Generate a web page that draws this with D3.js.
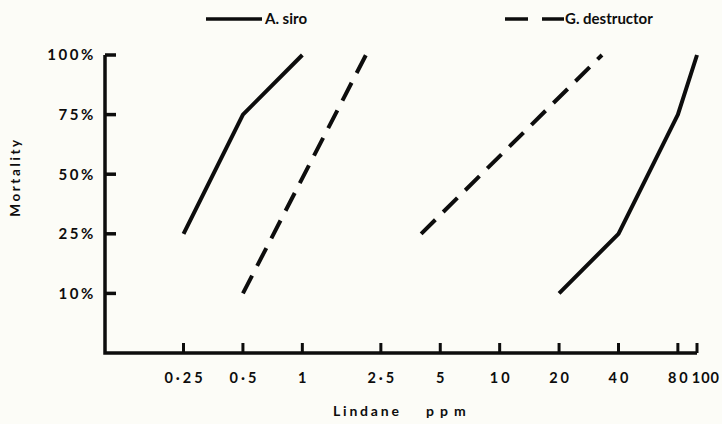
<!DOCTYPE html>
<html>
<head>
<meta charset="utf-8">
<script src="https://cdn.jsdelivr.net/npm/d3@7"></script>
<style>
  body { margin: 0; background: #fcfcf7; }
  svg { display: block; font-family: "Lato", "DejaVu Sans", sans-serif; font-weight: 700; }
</style>
</head>
<body>
<div id="chart"></div>
<script>
// mortality levels (probit-style, equally spaced)
const levels = ["10%", "25%", "50%", "75%", "100%"];
const xTicks = [0.25, 0.5, 1, 2.5, 5, 10, 20, 40, 80, 100];
const xTickLabels = ["0·25", "0·5", "1", "2·5", "5", "10", "20", "40", "80", "100"];

// A. siro (solid) – two sets of points
const siroA = [[0.25, "25%"], [0.5, "75%"], [1, "100%"]];
const siroB = [[20, "10%"], [40, "25%"], [80, "75%"], [100, "100%"]];
// G. destructor (dashed)
const destA = [[0.5, "10%"], [2.1, "100%"]];
const destB = [[4, "25%"], [33, "100%"]];

const width = 722, height = 424;

const svg = d3.select("#chart").append("svg")
  .attr("width", width).attr("height", height);

const x = d3.scaleLog().domain([0.1, 100]).range([105, 697]);
// index -1 is the baseline below 10%
const yIdx = d3.scaleLinear().domain([-1, 4]).range([353, 55]);
const y = (lv) => yIdx(levels.indexOf(lv));

const ink = "#0d0d0d";

// axes
svg.append("path")
  .attr("d", `M${x(0.1)},${yIdx(4)} V${yIdx(-1)} H${x(100)}`)
  .attr("fill", "none").attr("stroke", ink).attr("stroke-width", 3.5)
  .attr("stroke-linejoin", "miter");

// y ticks (inward)
svg.append("g").selectAll("line").data(levels).enter().append("line")
  .attr("x1", x(0.1)).attr("x2", x(0.1) + 11)
  .attr("y1", (d) => y(d)).attr("y2", (d) => y(d))
  .attr("stroke", ink).attr("stroke-width", 3.5);

svg.append("g").selectAll("text").data(levels).enter().append("text")
  .attr("x", 96).attr("y", (d) => y(d)).attr("dy", "0.36em")
  .attr("text-anchor", "end").attr("font-size", 15).attr("letter-spacing", 2.6)
  .attr("fill", ink).text((d) => d);

// x ticks (upward)
svg.append("g").selectAll("line").data(xTicks).enter().append("line")
  .attr("x1", (d) => x(d)).attr("x2", (d) => x(d))
  .attr("y1", yIdx(-1)).attr("y2", yIdx(-1) - 10)
  .attr("stroke", ink).attr("stroke-width", 3);

svg.append("g").selectAll("text").data(xTicks).enter().append("text")
  .attr("x", (d) => d === 100 ? 720 : x(d) + 1.5).attr("y", 383)
  .attr("text-anchor", (d) => d === 100 ? "end" : "middle")
  .attr("font-size", 14.5).attr("letter-spacing", (d) => d === 100 ? 1 : 3)
  .attr("fill", ink).text((d, i) => xTickLabels[i]);

// axis titles
svg.append("text")
  .attr("transform", "translate(20,177) rotate(-90)")
  .attr("text-anchor", "middle").attr("font-size", 13.5).attr("letter-spacing", 2.6)
  .attr("fill", ink).text("Mortality");

svg.append("text")
  .attr("x", 333).attr("y", 416)
  .attr("font-size", 14).attr("letter-spacing", 2.8)
  .attr("fill", ink).text("Lindane");
svg.append("text")
  .attr("x", 426).attr("y", 416)
  .attr("font-size", 14).attr("letter-spacing", 6)
  .attr("fill", ink).text("ppm");

// lines
const line = d3.line().x((d) => x(d[0])).y((d) => y(d[1]));

[siroA, siroB].forEach((s) => {
  svg.append("path").attr("d", line(s))
    .attr("fill", "none").attr("stroke", ink).attr("stroke-width", 4)
    .attr("stroke-linejoin", "round");
});
[destA, destB].forEach((s) => {
  svg.append("path").attr("d", line(s))
    .attr("fill", "none").attr("stroke", ink).attr("stroke-width", 4)
    .attr("stroke-dasharray", "20,11");
});

// legend
const leg = svg.append("g");
leg.append("line").attr("x1", 206).attr("x2", 262).attr("y1", 19).attr("y2", 19)
  .attr("stroke", ink).attr("stroke-width", 3.5);
leg.append("text").attr("x", 265).attr("y", 19).attr("dy", "0.36em")
  .attr("font-size", 15).attr("fill", ink).text("A. siro");
leg.append("line").attr("x1", 505).attr("x2", 564).attr("y1", 19).attr("y2", 19)
  .attr("stroke", ink).attr("stroke-width", 3.5).attr("stroke-dasharray", "23,14");
leg.append("text").attr("x", 565).attr("y", 19).attr("dy", "0.36em")
  .attr("font-size", 15).attr("fill", ink).text("G. destructor");
</script>
</body>
</html>
